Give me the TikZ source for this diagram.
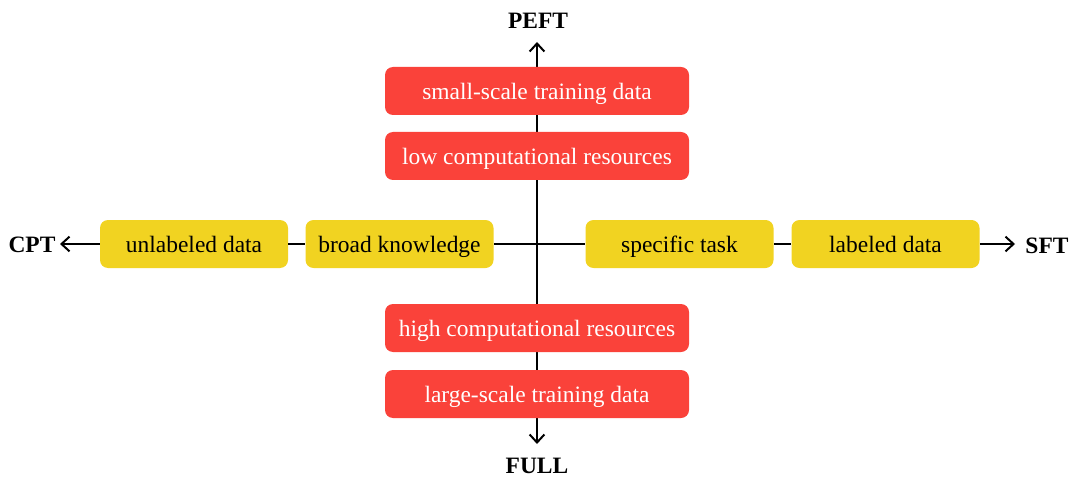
\documentclass[tikz,border=0pt]{standalone}
\usepackage{fontspec}
\setmainfont{Liberation Serif}
\usetikzlibrary{arrows.meta}
\definecolor{boxred}{RGB}{250,66,58}
\definecolor{boxyellow}{RGB}{241,211,33}
\begin{document}
\begin{tikzpicture}[x=0.75pt,y=-0.75pt,
  boxfont/.style={font=\fontsize{17.6}{21}\selectfont},
  redbox/.style={boxfont,fill=boxred,rounded corners=6pt,minimum width=228pt,minimum height=36pt,text=white,inner sep=0pt,text height=13.2pt,text depth=0.4pt},
  yelbox/.style={boxfont,fill=boxyellow,rounded corners=6pt,minimum width=141pt,minimum height=36pt,text=black,inner sep=0pt,text height=13.2pt,text depth=0.4pt},
  axlabel/.style={font=\bfseries\fontsize{17.6}{21}\selectfont,inner sep=0pt},
  axis/.style={line width=1.5pt,-{Straight Barb[length=6pt,width=11pt,line width=1.5pt]}},
  link/.style={line width=1.5pt}]
\useasboundingbox (0,0) rectangle (1069,477);
% axis end coordinates
\coordinate (c) at (537,244);
\coordinate (top) at (537,42);
\coordinate (bot) at (537,444);
\coordinate (lft) at (60,244);
\coordinate (rgt) at (1015,244);
\node[axlabel] (peft) at (538,21) {PEFT};
\node[axlabel] (full) at (537,466) {FULL};
\node[axlabel] (cpt) at (32,245) {CPT};
\node[axlabel] (sft) at (1047,246) {SFT};
% axes
\draw[axis] (c) -- (top);
\draw[axis] (c) -- (bot);
% boxes
\node[redbox] (small) at (537,91) {small-scale training data};
\node[redbox] (low) at (537,156) {low computational resources};
\node[redbox] (high) at (537,328) {high computational resources};
\node[redbox] (large) at (537,394) {large-scale training data};
\node[yelbox] (unl) at (194,244) {unlabeled data};
\node[yelbox] (broad) at (399.5,244) {broad knowledge};
\node[yelbox] (spec) at (679.5,244) {specific task};
\node[yelbox] (lab) at (885.5,244) {labeled data};
% horizontal connectors
\draw[link] (broad.east) -- (spec.west);
\draw[link] (unl.east) -- (broad.west);
\draw[link] (spec.east) -- (lab.west);
\draw[axis] (unl.west) -- (lft);
\draw[axis] (lab.east) -- (rgt);
\end{tikzpicture}
\end{document}
